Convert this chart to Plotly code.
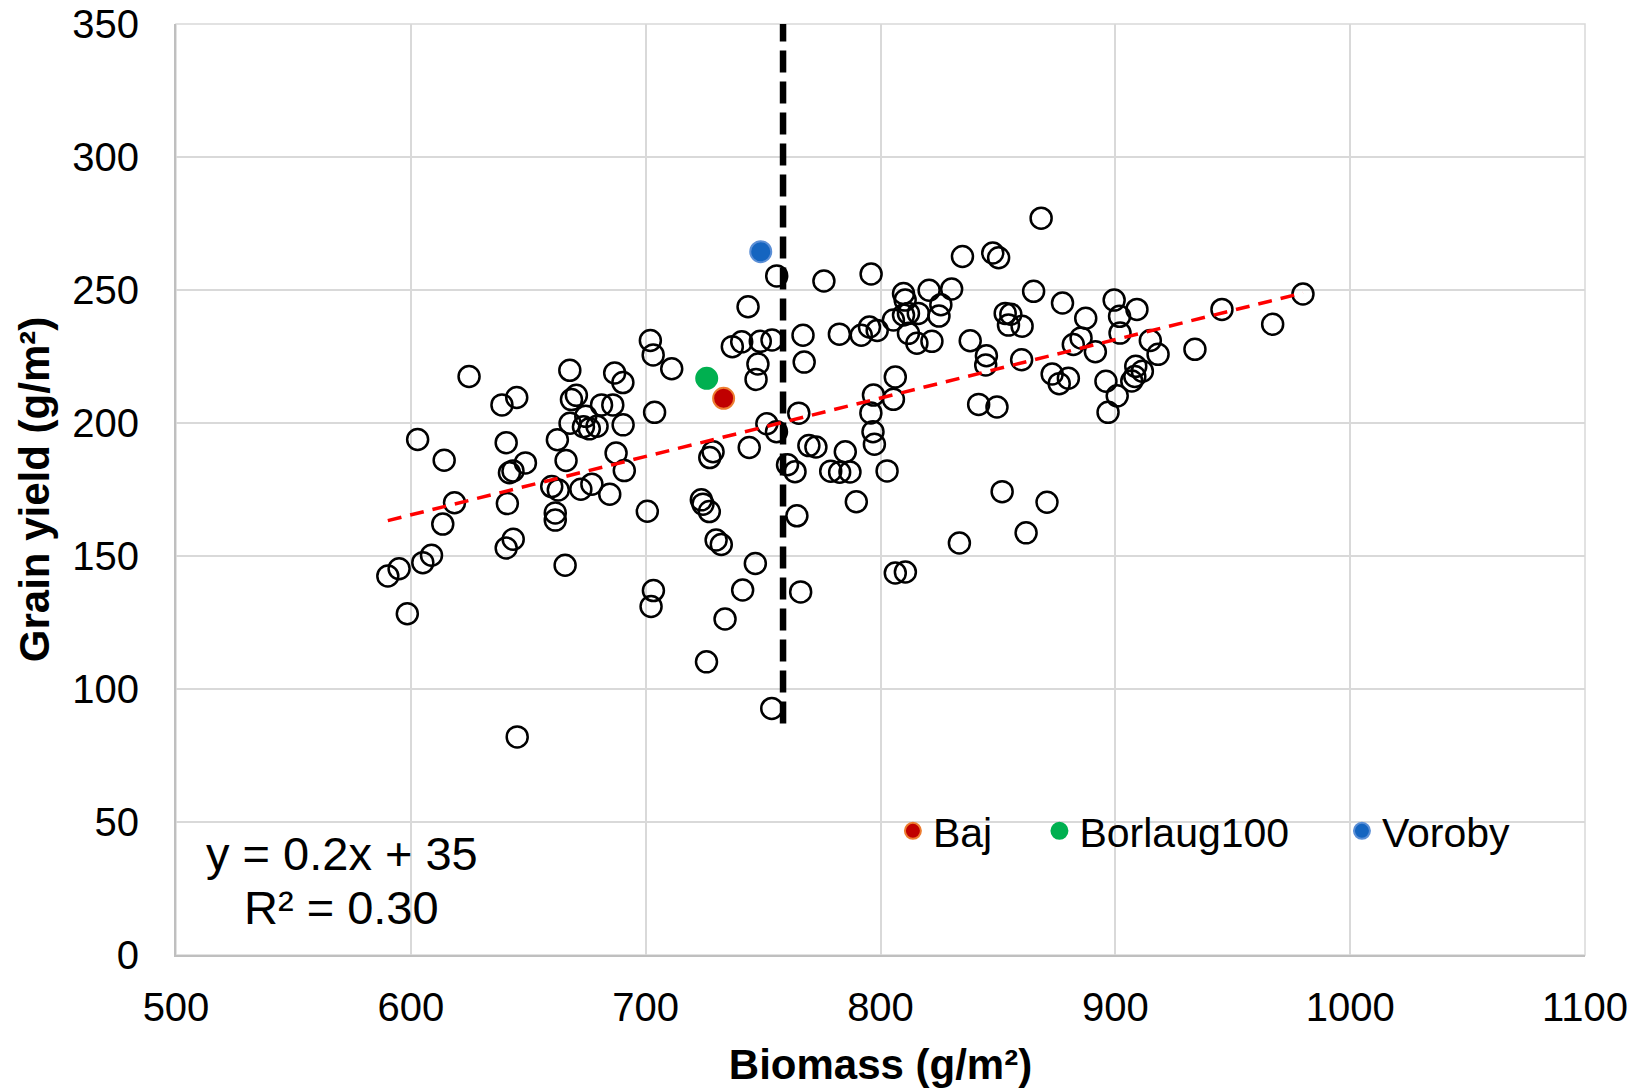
import numpy as np
import plotly.graph_objects as go

# ---- data ----
biomass = [590.2, 595.0, 598.5, 602.9, 605.1, 608.8, 613.6, 614.2, 618.6, 624.8,
           638.8, 640.6, 642.0, 641.1, 640.6, 643.6, 643.5, 645.1, 645.3, 648.8,
           660.0, 661.5, 661.5, 662.4, 662.8, 666.1, 665.7, 667.7, 667.8, 668.4,
           670.5, 672.4, 673.5, 674.5, 676.0, 677.1, 679.3, 681.2, 684.7, 686.0,
           686.8, 687.4, 690.3, 690.4, 690.9, 700.7, 702.0, 703.2, 703.3, 702.3,
           703.8, 711.1, 723.7, 724.4, 725.9, 727.1, 727.3, 728.7, 730.0, 732.2,
           733.8, 736.9, 740.9, 741.3, 743.6, 744.1, 746.7, 747.0, 747.8, 748.8,
           751.6, 753.8, 753.7, 755.8, 755.7, 760.4, 763.6, 764.4, 765.2, 766.0,
           767.0, 767.5, 769.5, 772.5, 775.9, 778.8, 782.5, 782.6, 785.0, 787.0,
           789.7, 791.8, 795.3, 796.0, 795.9, 797.0, 796.8, 797.4, 798.6, 802.8,
           806.3, 805.5, 806.3, 805.5, 809.8, 810.6, 809.8, 810.5, 811.9, 811.9,
           815.5, 816.1, 820.7, 821.9, 824.9, 825.7, 830.3, 833.6, 834.9, 838.2,
           841.8, 845.1, 844.8, 847.8, 850.3, 849.6, 851.8, 853.1, 854.5, 855.5,
           860.3, 860.1, 862.0, 865.2, 868.4, 870.9, 873.1, 876.1, 877.5, 880.0,
           882.1, 885.4, 887.4, 891.5, 896.0, 896.9, 899.5, 900.8, 901.8, 902.0,
           907.0, 908.3, 908.7, 909.2, 911.5, 914.9, 918.2, 933.9, 945.4, 967.0,
           979.9]
grain_yield = [142.5, 145.2, 128.3, 193.8, 147.5, 150.3, 162.0, 186.0, 170.0, 217.5,
               206.8, 192.6, 181.3, 169.7, 153.0, 156.3, 182.0, 209.6, 82.0, 185.0,
               176.1, 166.2, 163.5, 193.7, 174.8, 185.9, 146.5, 219.8, 199.9, 208.8,
               210.4, 175.1, 198.6, 202.5, 197.8, 177.0, 198.8, 206.8, 173.2, 206.8,
               218.8, 188.7, 215.2, 199.3, 182.1, 166.8, 231.0, 225.6, 137.0, 131.0,
               204.0, 220.4, 171.1, 169.5, 110.2, 166.7, 187.0, 189.2, 156.0, 154.3,
               126.3, 228.7, 230.5, 137.2, 243.7, 190.8, 147.2, 216.4, 222.2, 230.7,
               199.7, 231.2, 92.7, 255.3, 196.7, 184.3, 181.7, 165.1, 203.7, 136.5,
               233.0, 222.9, 191.5, 191.0, 253.4, 181.9, 233.4, 181.5, 189.2, 181.6,
               170.4, 233.0, 236.1, 256.0, 203.8, 210.5, 196.7, 192.0, 234.8, 182.0,
               217.3, 208.9, 143.6, 238.7, 240.6, 144.0, 248.7, 246.2, 241.2, 233.7,
               230.0, 241.2, 249.9, 230.7, 240.2, 244.5, 250.4, 154.9, 262.6, 230.9,
               207.0, 225.3, 221.8, 263.9, 262.1, 206.0, 174.2, 241.2, 236.8, 240.9,
               236.4, 223.8, 158.7, 249.5, 277.0, 170.2, 218.4, 214.8, 245.1, 216.8,
               229.5, 232.0, 239.4, 226.8, 215.7, 204.0, 246.2, 210.2, 240.1, 233.8,
               215.8, 217.5, 221.3, 242.7, 219.5, 231.0, 225.8, 227.7, 242.7, 237.1,
               248.5]

cultivars = ["Baj", "Borlaug100", "Voroby"]
cultivar_biomass = [733.2, 726.0, 749.0]
cultivar_yield = [209.3, 216.8, 264.4]
cultivar_fill = ["#C00000", "#00B050", "#1565C0"]
cultivar_edge = ["#ED7D31", "#00B050", "#5B8FD6"]

threshold_biomass = 758.5
threshold_yield_span = [87, 350]

x_ticks = [500, 600, 700, 800, 900, 1000, 1100]
y_ticks = [0, 50, 100, 150, 200, 250, 300, 350]

equation_text = "y = 0.2x + 35"
r2_text = "R² = 0.30"

FONT = "Liberation Sans, Arial, sans-serif"

fig = go.Figure()

fig.add_trace(go.Scatter(
    x=biomass, y=grain_yield, mode="markers", showlegend=False,
    marker=dict(symbol="circle", size=21, color="rgba(0,0,0,0)",
                line=dict(color="black", width=2.5)),
    hoverinfo="x+y"))

fig.add_trace(go.Scatter(
    x=[threshold_biomass, threshold_biomass], y=threshold_yield_span,
    mode="lines", showlegend=False,
    line=dict(color="black", width=6.5, dash="22px,9px")))

slope, intercept = np.polyfit(np.array(biomass), np.array(grain_yield), 1)
trend_x = np.array([min(biomass), max(biomass)])
fig.add_trace(go.Scatter(
    x=trend_x, y=slope * trend_x + intercept, mode="lines", showlegend=False,
    line=dict(color="#FF0000", width=3.5, dash="14px,9px")))

legend_ids = ["legend", "legend2", "legend3"]
for name, bx, gy, fc, ec, lg in zip(cultivars, cultivar_biomass, cultivar_yield,
                                    cultivar_fill, cultivar_edge, legend_ids):
    fig.add_trace(go.Scatter(
        x=[bx], y=[gy], mode="markers", name=name, legend=lg,
        marker=dict(symbol="circle", size=21, color=fc,
                    line=dict(color=ec, width=2))))

axis_common = dict(
    showgrid=True, gridcolor="#D9D9D9", gridwidth=1.5,
    showline=True, linecolor="#BFBFBF", linewidth=2,
    zeroline=False, ticks="outside", tickcolor="rgba(0,0,0,0)",
    tickfont=dict(family=FONT, size=40, color="black"),
    ticklabeloverflow="allow",
    automargin=False,
)

fig.update_xaxes(range=[500, 1100], tickvals=x_ticks, ticklen=16,
                 title=dict(text="<b>Biomass (g/m²)</b>", standoff=25,
                            font=dict(family=FONT, size=42, color="black")),
                 **axis_common)
fig.update_yaxes(range=[0, 350], tickvals=y_ticks, ticklen=27,
                 title=dict(text="<b>Grain yield (g/m²)</b>", standoff=10,
                            font=dict(family=FONT, size=42, color="black")),
                 **axis_common)

# plot-area border (top and right edges, light grey like the grid)
fig.add_shape(type="rect", xref="paper", yref="paper", x0=0, x1=1, y0=0, y1=1,
              line=dict(color="#D9D9D9", width=1.5), layer="below")

legend_common = dict(orientation="h", yanchor="middle", xanchor="left",
                     bgcolor="rgba(0,0,0,0)", borderwidth=0,
                     font=dict(family=FONT, size=41, color="black"))
fig.update_layout(
    legend=dict(x=0.5088, y=0.133, **legend_common),
    legend2=dict(x=0.6128, y=0.133, **legend_common),
    legend3=dict(x=0.8275, y=0.133, **legend_common),
)

fig.add_annotation(x=0.1178, y=0.1095, xref="paper", yref="paper",
                   text=equation_text, showarrow=False, xanchor="center", yanchor="middle",
                   font=dict(family=FONT, size=47, color="black"))
fig.add_annotation(x=0.1178, y=0.0505, xref="paper", yref="paper",
                   text=r2_text, showarrow=False, xanchor="center", yanchor="middle",
                   font=dict(family=FONT, size=47, color="black"))

# the page body adds an 8 px offset, so the figure is 8 px smaller and shifted
fig.update_layout(
    width=1631, height=1080,
    margin=dict(l=168, r=54, t=16, b=133, pad=0),
    paper_bgcolor="white", plot_bgcolor="white",
    font=dict(family=FONT, color="black"),
)

fig.write_html("out.html")
